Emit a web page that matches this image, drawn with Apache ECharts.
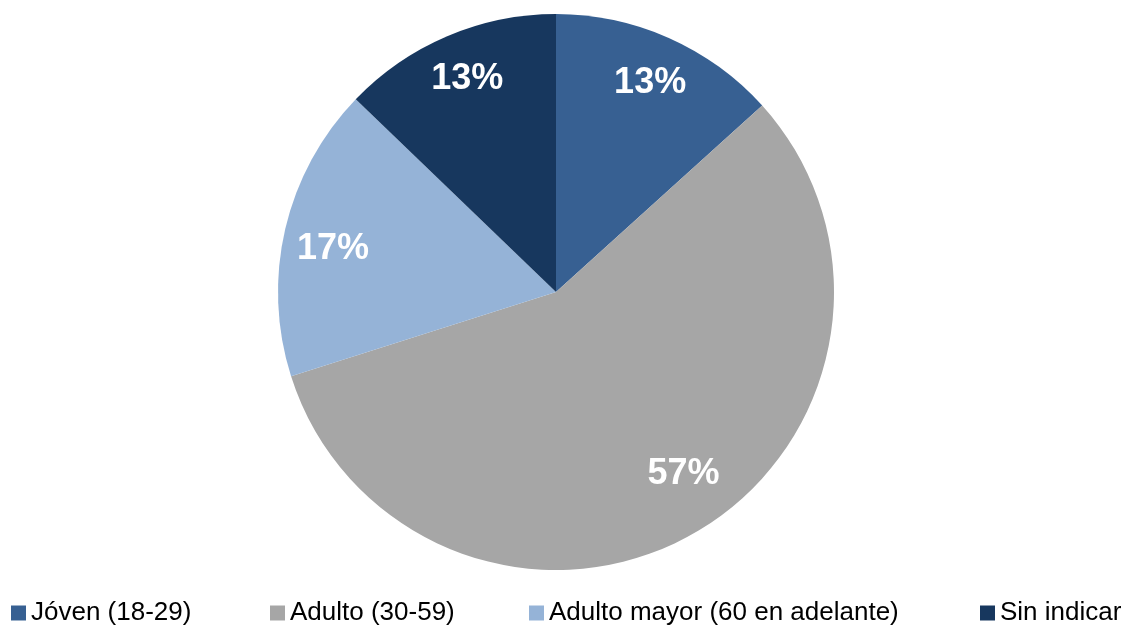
<!DOCTYPE html>
<html>
<head>
<meta charset="utf-8">
<script src="https://cdn.jsdelivr.net/npm/echarts@6/dist/echarts.min.js"></script>
<style>html,body{margin:0;padding:0;background:#fff;}#c{width:1133px;height:628px;}</style>
</head>
<body>
<div id="c"></div>
<script>
var categories = ['Jóven (18-29)', 'Adulto (30-59)', 'Adulto mayor (60 en adelante)', 'Sin indicar'];
var values = [13.3, 56.8, 17.1, 12.8];
var percentLabels = ['13%', '57%', '17%', '13%'];
var colors = ['#376092', '#A6A6A6', '#95B3D7', '#17375E'];
var legendLefts = [11, 270, 529, 980];
// per-label nudges [dx, dy]
var labelNudges = [[0, 3], [12, -19], [3, 10], [2, 1]];

var data = categories.map(function (c, i) {
  return { name: c, value: values[i], itemStyle: { color: colors[i] } };
});
var labelData = categories.map(function (c, i) {
  return { name: c, value: values[i], label: { formatter: percentLabels[i] } };
});

var legends = categories.map(function (c, i) {
  return {
    data: [c], left: legendLefts[i], top: 600, orient: 'horizontal', padding: 0,
    icon: 'rect', itemWidth: 15, itemHeight: 15, itemGap: 4,
    textStyle: { fontFamily: 'Liberation Sans, Arial', fontSize: 26, color: '#000' },
    selectedMode: false
  };
});

var chart = echarts.init(document.getElementById('c'));
chart.setOption({
  animation: false,
  legend: legends,
  series: [
    {
      type: 'pie', name: 'main', center: [556, 292], radius: [0, 278],
      startAngle: 90, clockwise: true, data: data,
      label: { show: false }, labelLine: { show: false },
      itemStyle: { borderWidth: 0 }, silent: true
    },
    {
      type: 'pie', name: 'labels', center: [556, 292], radius: [180, 278],
      startAngle: 90, clockwise: true, data: labelData,
      itemStyle: { color: 'rgba(0,0,0,0)' },
      label: { show: true, position: 'inside', color: '#fff', fontFamily: 'Liberation Sans, Arial', fontWeight: 'bold', fontSize: 36 },
      labelLayout: function (p) {
        var n = labelNudges[p.dataIndex];
        return { dx: n[0], dy: n[1] };
      },
      labelLine: { show: false }, silent: true, legendHoverLink: false
    }
  ]
});
</script>
</body>
</html>
